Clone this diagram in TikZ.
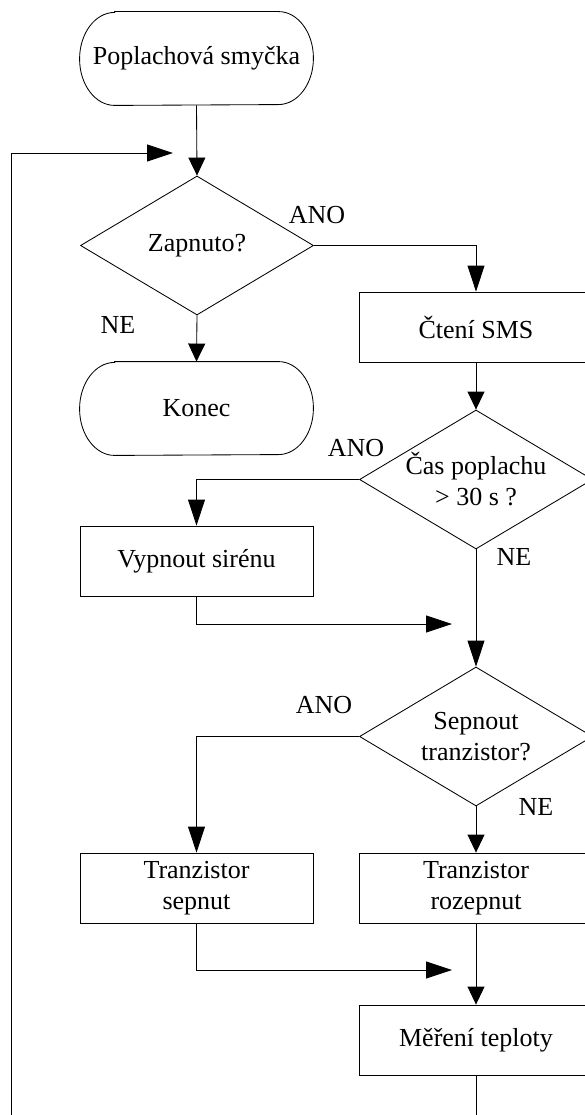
\documentclass[tikz,border=0pt]{standalone}
\usepackage{fontspec}
\setmainfont{Liberation Serif}
\usetikzlibrary{shapes.geometric,arrows.meta,calc}

\begin{document}
\begin{tikzpicture}[x=1pt,y=1pt,
  font=\fontsize{26}{31}\selectfont,
  line width=0.85pt,
  stepbox/.style={draw, rectangle, minimum width=233pt, minimum height=70pt,
    inner sep=0pt, align=center},
  termbox/.style={rectangle, minimum width=233pt, minimum height=93pt,
    inner sep=0pt, align=center},
  decision/.style={draw, diamond, minimum width=233pt, minimum height=139pt,
    aspect=1.67, inner sep=0pt, align=center},
  lbl/.style={inner sep=0pt},
  longtip/.style={-{Triangle[length=26pt,width=17pt]}},
  shorttip/.style={-{Triangle[length=18pt,width=17pt]}},
]
\useasboundingbox (0,0) rectangle (584,-1115);

% terminal shape: straight top and bottom, elliptical ends
\newcommand{\terminal}[1]{%
  \draw ([xshift=35pt]#1.north west) -- ([xshift=-35pt]#1.north east)
    arc[start angle=90, end angle=-90, x radius=35pt, y radius=46.5pt]
    -- ([xshift=35pt]#1.south west)
    arc[start angle=270, end angle=90, x radius=35pt, y radius=46.5pt]
    -- cycle;}

% nodes
\node[termbox] (start) at (196.5,-58.5) {Poplachová smyčka};
\terminal{start}
\node[decision] (zap) at (197,-245.5) {Zapnuto?};
\node[stepbox] (sms) at (476,-327) {Čtení SMS};
\node[termbox] (konec) at (196.5,-408.5) {Konec};
\terminal{konec}
\node[decision] (cas) at (476,-479.5) {Čas poplachu\\\textgreater{} 30 s ?};
\node[stepbox] (siren) at (196.5,-561) {Vypnout sirénu};
\node[decision] (sep) at (476,-736.5) {Sepnout\\tranzistor?};
\node[stepbox] (tsep) at (196.5,-888) {Tranzistor\\sepnut};
\node[stepbox] (troz) at (476,-888) {Tranzistor\\rozepnut};
\node[stepbox] (temp) at (476,-1040) {Měření teploty};

% branch labels
\node[lbl] (ano1) at (317,-215) {ANO};
\node[lbl] (ne1) at (118,-325) {NE};
\node[lbl] (ano2) at (356,-448) {ANO};
\node[lbl] (ne2) at (514,-557) {NE};
\node[lbl] (ano3) at (324,-705) {ANO};
\node[lbl] (ne3) at (536,-807) {NE};

% free ends of connectors
\coordinate (entry) at (173,-153);
\coordinate (join1) at (452,-624);
\coordinate (join2) at (452,-970);
\coordinate (loopR) at (476,-1118);
\coordinate (loopL) at (11,-1118);

% connectors
\draw[shorttip] (start.south) -- (zap.north);
\draw[longtip] (zap.east) -| (sms.north);
\draw[shorttip] (zap.south) -- (konec.north);
\draw[shorttip] (sms.south) -- (cas.north);
\draw[longtip] (cas.west) -| (siren.north);
\draw[longtip] (cas.south) -- (sep.north);
\draw[longtip] (siren.south) |- (join1);
\draw[longtip] (sep.west) -| (tsep.north);
\draw[shorttip] (sep.south) -- (troz.north);
\draw[longtip] (tsep.south) |- (join2);
\draw[shorttip] (troz.south) -- (temp.north);
\draw[longtip] (temp.south) -- (loopR) -- (loopL) |- (entry);
\end{tikzpicture}
\end{document}
